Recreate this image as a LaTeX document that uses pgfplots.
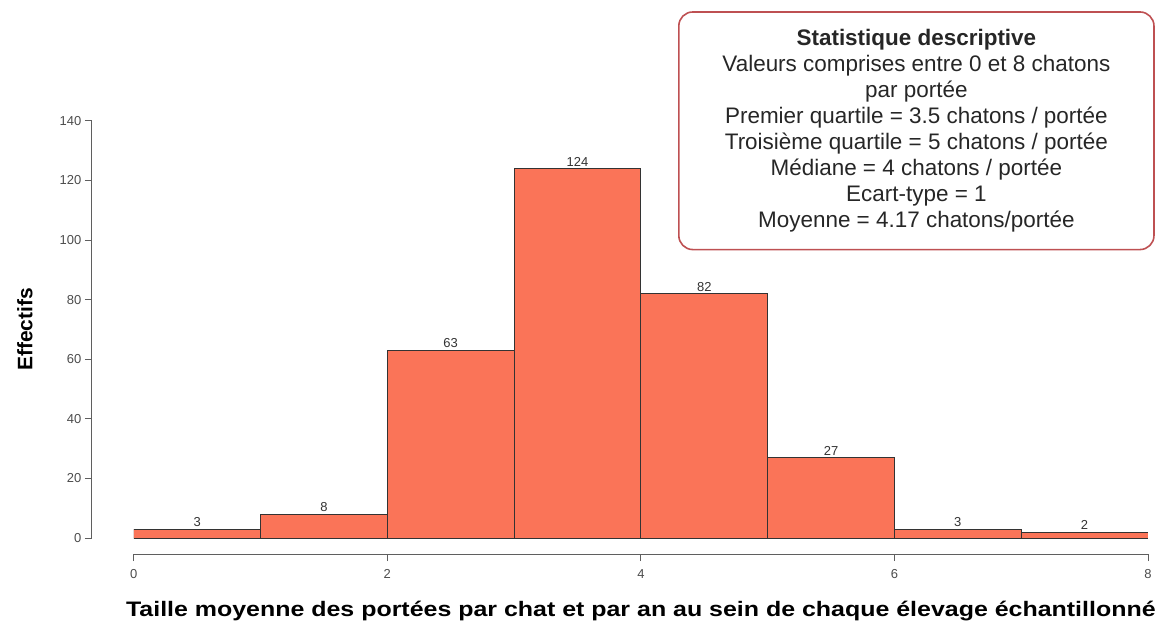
\documentclass[border=0pt]{standalone}
\usepackage{fontspec}
\setmainfont{Liberation Sans}
\usepackage{pgfplots}
\pgfplotsset{compat=1.18}
\definecolor{barfill}{RGB}{250,116,88}
\definecolor{boxedge}{RGB}{190,80,82}
\definecolor{axgray}{RGB}{95,95,95}
\begin{document}
\begin{tikzpicture}[x=1pt,y=1pt]
\path (0,0) rectangle (1159,627);
\begin{axis}[
  at={(134pt,88pt)}, anchor=south west,
  width=1016pt, height=418pt, scale only axis,
  xmin=0, xmax=8, ymin=0, ymax=140,
  axis x line*=bottom, axis y line*=left,
  axis x line shift=16pt, axis y line shift=42pt,
  axis line style={draw=axgray, line width=0.9pt, -},
  xtick={0,2,4,6,8}, ytick={0,20,...,140},
  tick align=outside, major tick length=7pt,
  tick style={draw=axgray, line width=0.8pt},
  /pgf/number format/assume math mode=true,
  tick label style={font=\fontsize{13}{13}\selectfont, text=black!70},
  xticklabel style={yshift=-5pt},
  every axis x label/.style={at={(axis description cs:0.5,0)}, yshift=-73pt, anchor=center},
  every axis y label/.style={at={(axis description cs:0,0.5)}, xshift=-109pt, rotate=90, anchor=center},
  label style={font=\fontsize{21}{21}\selectfont\bfseries},
  xlabel={\scalebox{1.19}[1]{Taille moyenne des portées par chat et par an au sein de chaque élevage échantillonné}},
  ylabel={Effectifs},
  ybar, bar width=1, bar shift=0,
  nodes near coords,
  nodes near coords style={font=\fontsize{13}{13}\selectfont, text=black!80, anchor=south, inner sep=2pt},
]
\addplot[fill=barfill, draw=black!80, line width=0.8pt] coordinates {
  (0.5,3) (1.5,8) (2.5,63) (3.5,124) (4.5,82) (5.5,27) (6.5,3) (7.5,2)};
\end{axis}
\node[draw=boxedge, line width=1.6pt, rounded corners=14pt, minimum width=476pt,
      minimum height=238pt, align=center, text=black!85,
      font=\fontsize{22.5}{26}\selectfont] at (918,496)
  {\textbf{Statistique descriptive}\\
   Valeurs comprises entre 0 et 8 chatons\\
   par portée\\
   Premier quartile = 3.5 chatons / portée\\
   Troisième quartile = 5 chatons / portée\\
   Médiane = 4 chatons / portée\\
   Ecart-type = 1\\
   Moyenne = 4.17 chatons/portée};
\end{tikzpicture}
\end{document}
